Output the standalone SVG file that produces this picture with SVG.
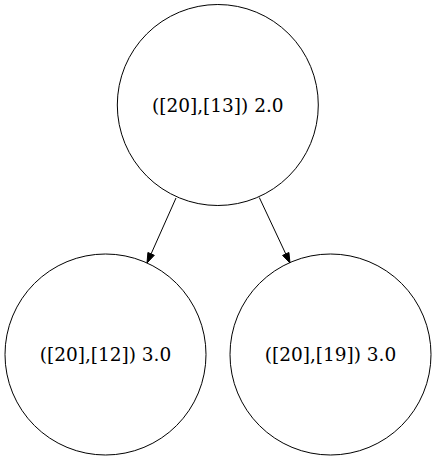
<svg xmlns="http://www.w3.org/2000/svg" width="437" height="461" viewBox="0 0 437 461">
<style>
.node ellipse{fill:none;stroke:#000;stroke-width:1}
.node text{font-family:"DejaVu Serif","Liberation Serif",serif;font-size:18.5px;fill:#000;text-anchor:middle}
.edge path{fill:none;stroke:#000;stroke-width:1}
.edge polygon{fill:#000;stroke:#000;stroke-width:1}
</style>
<rect width="437" height="461" fill="#fff"/>
<g id="edges">
<g class="edge" id="e1"><path d="M176,198 L151.1,253.9"/><polygon points="154.3,255.3 147,263 147.9,252.5"/></g>
<g class="edge" id="e2"><path d="M259.3,197.5 L285.8,254"/><polygon points="288.9,252.5 290,263 282.6,255.4"/></g>
</g>
<g class="node" id="n0"><ellipse cx="217.8" cy="105" rx="100.5" ry="100.5"/><text x="217.8" y="111.5">([20],[13]) 2.0</text></g>
<g class="node" id="n1"><ellipse cx="105.5" cy="354.5" rx="100.5" ry="100.5"/><text x="105.5" y="361">([20],[12]) 3.0</text></g>
<g class="node" id="n2"><ellipse cx="330.5" cy="354.5" rx="100.5" ry="100.5"/><text x="330.5" y="361">([20],[19]) 3.0</text></g>
</svg>
